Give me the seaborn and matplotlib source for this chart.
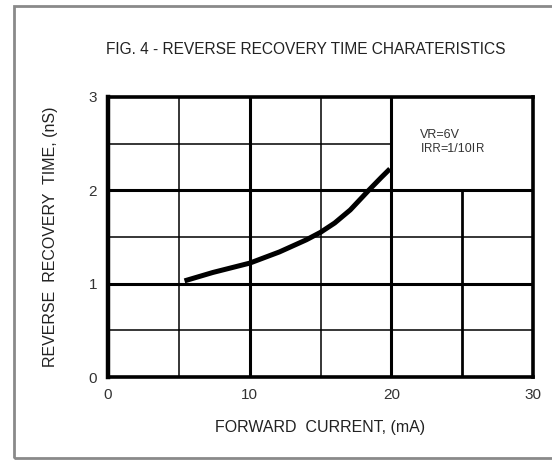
import matplotlib
matplotlib.use("Agg")
import matplotlib.pyplot as plt
import seaborn as sns
import pandas as pd
from matplotlib.patches import Rectangle
from matplotlib.offsetbox import TextArea, HPacker, VPacker, AnchoredOffsetbox

# Data
forward_current = [5.4, 7.4, 10.0, 12.1, 14.0, 15.0, 16.0, 17.1, 18.4, 19.3, 19.9]
recovery_time = [1.03, 1.12, 1.22, 1.34, 1.47, 1.55, 1.65, 1.79, 2.00, 2.14, 2.23]
x_ticks = [0, 10, 20, 30]
y_ticks = [0, 1, 2, 3]

sns.set_theme(style="white")
plt.rcParams['font.family'] = ['Liberation Sans', 'DejaVu Sans']

fig = plt.figure(figsize=(5.52, 4.61), dpi=100)
ax = fig.add_axes([0.1957, 0.1822, 0.7699, 0.6074])

df = pd.DataFrame({"x": forward_current, "y": recovery_time})

# grid lines
thick, thin = 2.2, 1.1
for xv in [10, 20]:
    ax.axvline(xv, color="black", lw=thick, zorder=1)
for xv in [5, 15]:
    ax.axvline(xv, color="black", lw=thin, zorder=1)
ax.plot([25, 25], [0, 2], color="black", lw=thick * 0.9, zorder=1)
for yv in [1, 2]:
    ax.axhline(yv, color="black", lw=thick, zorder=1)
for yv in [0.5, 1.5]:
    ax.axhline(yv, color="black", lw=thin, zorder=1)
ax.plot([0, 20], [2.5, 2.5], color="black", lw=thin, zorder=1)

sns.lineplot(data=df, x="x", y="y", ax=ax, color="black", lw=3.6,
             solid_capstyle="butt", solid_joinstyle="round", zorder=3)

ax.set_xlim(0, 30)
ax.set_ylim(0, 3)
ax.set_xticks(x_ticks)
ax.set_yticks(y_ticks)
ax.tick_params(length=0, labelsize=11, colors="#333333", pad=8)
for s in ax.spines.values():
    s.set_color("black")
    s.set_linewidth(2.6)
ax.spines["left"].set_linewidth(3.2)

ax.set_xlabel("FORWARD  CURRENT, (mA)", fontsize=11.5, color="#222222", labelpad=13)
ax.set_ylabel("REVERSE  RECOVERY  TIME, (nS)", fontsize=11.5, color="#222222", labelpad=22)

fig.text(0.553, 0.892, "FIG. 4 - REVERSE RECOVERY TIME CHARATERISTICS",
         ha="center", va="center", fontsize=11.2, color="#222222")

# annotation with small-caps subscripts
big, small = 9, 8.3
c = "#333333"
line1 = TextArea("VR=6V", textprops=dict(fontsize=big, color=c, family="Liberation Sans"))
line2 = HPacker(children=[
    TextArea("I", textprops=dict(fontsize=big, color=c, family="Liberation Sans")),
    TextArea("RR", textprops=dict(fontsize=small, color=c, family="Liberation Sans")),
    TextArea("=1/10I", textprops=dict(fontsize=big, color=c, family="Liberation Sans")),
    TextArea("R", textprops=dict(fontsize=small, color=c, family="Liberation Sans")),
], align="baseline", pad=0, sep=0)
box = VPacker(children=[line1, line2], align="left", pad=0, sep=1)
anch = AnchoredOffsetbox(loc="upper left", child=box, frameon=False,
                         bbox_to_anchor=(0.735, 0.885), bbox_transform=ax.transAxes,
                         borderpad=0, pad=0)
ax.add_artist(anch)

# outer gray frame
fig.patches.append(Rectangle((14 / 552, 3 / 461), 1.2, 452 / 461, transform=fig.transFigure,
                             fill=False, edgecolor="#8a8a8a", lw=2.0))

fig.savefig("out.png", dpi=100)
